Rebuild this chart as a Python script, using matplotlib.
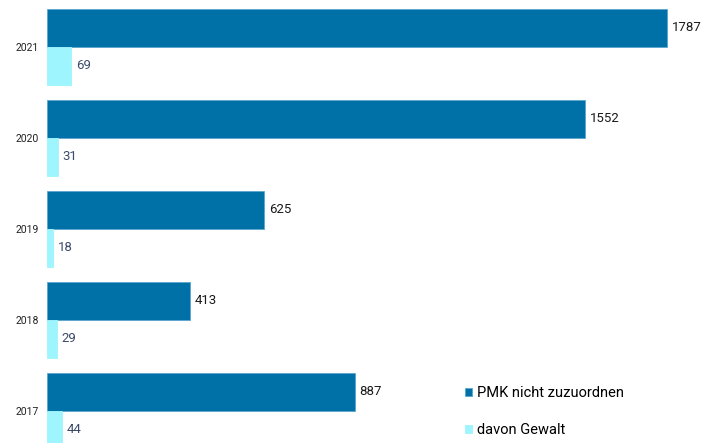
import matplotlib
matplotlib.use("Agg")
import matplotlib.pyplot as plt
import numpy as np

plt.rcParams['font.family'] = ['Roboto', 'DejaVu Sans']

years = ["2017", "2018", "2019", "2020", "2021"]
pmk = [887, 413, 625, 1552, 1787]
gewalt = [44, 29, 18, 31, 69]
series_names = ["PMK nicht zuzuordnen", "davon Gewalt"]

dark = "#0071a7"
light = "#9ef5fd"

fig = plt.figure(figsize=(7.05, 4.43), dpi=100)
ax = fig.add_axes([47 / 705, 0, 658 / 705, 1])

y = np.arange(len(years))
h = 0.418
b1 = ax.barh(y + h / 2, pmk, height=h, color=dark, edgecolor="#5aa6cf", linewidth=0.6)
b2 = ax.barh(y - h / 2, gewalt, height=h, color=light, edgecolor=light, linewidth=0.6)

for yi, v in zip(y, pmk):
    ax.text(v + 14, yi + h / 2, str(v), va="center", ha="left", fontsize=9.5, color="#1a1a1a")
for yi, v in zip(y, gewalt):
    ax.text(v + 14, yi - h / 2, str(v), va="center", ha="left", fontsize=9.5, color="#3b4a6b")

ax.set_xlim(0, 658 / 0.3469)
ax.set_ylim(-0.352, 4.516)
ax.set_yticks(y)
ax.set_yticklabels(years, fontsize=7.5, color="#222222")
ax.tick_params(axis="y", length=0, pad=6)
ax.set_xticks([])
for s in ax.spines.values():
    s.set_visible(False)

ax.legend([b1, b2], series_names, loc="upper left", bbox_to_anchor=(452 / 705, 1 - 373 / 443),
          bbox_transform=fig.transFigure, frameon=False, fontsize=10.5,
          handlelength=0.5, handleheight=0.5, handletextpad=0.3, labelspacing=1.6)

fig.savefig("out.png", dpi=100)
